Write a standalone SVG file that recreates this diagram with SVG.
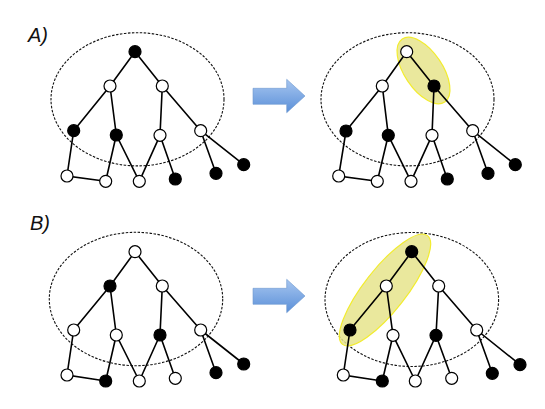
<svg xmlns="http://www.w3.org/2000/svg" width="545" height="409" viewBox="0 0 545 409">
<defs>
<linearGradient id="ag" x1="0" y1="0" x2="0" y2="1">
<stop offset="0" stop-color="#a7c6f0"/>
<stop offset="1" stop-color="#5a8fd8"/>
</linearGradient>
<style>
.bg{fill:#fff}
.dash{fill:none;stroke:#111;stroke-width:1.1;stroke-dasharray:2.5,1.5}
.hl{fill:#e6e48c;fill-opacity:0.85;stroke:#f2ec2e;stroke-width:1.2}
.e{stroke:#000;stroke-width:1.6;fill:none}
.w{fill:#fff;stroke:#000;stroke-width:1.2}
.b{fill:#000;stroke:#000;stroke-width:1.2}
.lbl{font-family:"Liberation Sans",Arial,sans-serif;font-style:italic;font-size:20px;fill:#111}
.arr{fill:url(#ag);stroke:#6f98cf;stroke-width:0.6}
</style>
</defs>
<rect class="bg" x="0" y="0" width="545" height="409"/>

<text class="lbl" x="28" y="42">A)</text>
<text class="lbl" x="30" y="230">B)</text>

<g id="arrowA"><path class="arr" d="M253,88.3 H286.7 V79.3 L305,96 L286.7,112.7 V104.3 H253 Z"/></g>
<g id="arrowB"><path class="arr" d="M253,288.3 H286.7 V279.3 L305,296 L286.7,312.7 V304.3 H253 Z"/></g>

<!-- Panel A left -->
<g id="panelA-left">
<ellipse class="dash" cx="137.5" cy="99.3" rx="86.5" ry="66.6"/>
<g id="connectors-A-left">
<path class="e" d="M135,51.7 L110,86 M135,51.7 L162.3,86 M110,86 L73.7,130.7 M110,86 L116.3,135 M162.3,86 L160,135.3 M162.3,86 L200.7,130.7 M73.7,130.7 L67,176 L105.7,181.3 M116.3,135 L105.7,181.3 M116.3,135 L139.3,181.3 M160,135.3 L139.3,181.3 M160,135.3 L175.3,179 M200.7,130.7 L216,173.3 M200.7,130.7 L243.7,164.7"/>
</g>
<g id="A1-n1"><circle class="b" cx="135" cy="51.7" r="6"/></g>
<g id="A1-n2"><circle class="w" cx="110" cy="86" r="6"/></g>
<g id="A1-n3"><circle class="w" cx="162.3" cy="86" r="6"/></g>
<g id="A1-n4"><circle class="b" cx="73.7" cy="130.7" r="6"/></g>
<g id="A1-n5"><circle class="b" cx="116.3" cy="135" r="6"/></g>
<g id="A1-n6"><circle class="w" cx="160" cy="135.3" r="6"/></g>
<g id="A1-n7"><circle class="w" cx="200.7" cy="130.7" r="6"/></g>
<g id="A1-n8"><circle class="w" cx="67" cy="176" r="6"/></g>
<g id="A1-n9"><circle class="w" cx="105.7" cy="181.3" r="6"/></g>
<g id="A1-n10"><circle class="w" cx="139.3" cy="181.3" r="6"/></g>
<g id="A1-n11"><circle class="b" cx="175.3" cy="179" r="6"/></g>
<g id="A1-n12"><circle class="b" cx="216" cy="173.3" r="6"/></g>
<g id="A1-n13"><circle class="b" cx="243.7" cy="164.7" r="6"/></g>
</g>

<!-- Panel A right -->
<g id="panelA-right">
<ellipse class="dash" cx="407.5" cy="99.3" rx="86.5" ry="66.6"/>
<ellipse class="hl" cx="423.5" cy="70.5" rx="38" ry="19" transform="rotate(56 423.5 70.5)"/>
<g id="connectors-A-right">
<path class="e" d="M406.7,51.7 L382.3,86 M406.7,51.7 L434,86 M382.3,86 L346,131 M382.3,86 L388.3,135.3 M434,86 L432,135.3 M434,86 L472.7,130.7 M346,131 L338.7,176 L377.3,181.3 M388.3,135.3 L377.3,181.3 M388.3,135.3 L411,181.3 M432,135.3 L411,181.3 M432,135.3 L447.3,179 M472.7,130.7 L488,173.3 M472.7,130.7 L515.3,164.7"/>
</g>
<g id="A2-n1"><circle class="w" cx="406.7" cy="51.7" r="6"/></g>
<g id="A2-n2"><circle class="w" cx="382.3" cy="86" r="6"/></g>
<g id="A2-n3"><circle class="b" cx="434" cy="86" r="6"/></g>
<g id="A2-n4"><circle class="b" cx="346" cy="131" r="6"/></g>
<g id="A2-n5"><circle class="b" cx="388.3" cy="135.3" r="6"/></g>
<g id="A2-n6"><circle class="w" cx="432" cy="135.3" r="6"/></g>
<g id="A2-n7"><circle class="w" cx="472.7" cy="130.7" r="6"/></g>
<g id="A2-n8"><circle class="w" cx="338.7" cy="176" r="6"/></g>
<g id="A2-n9"><circle class="w" cx="377.3" cy="181.3" r="6"/></g>
<g id="A2-n10"><circle class="w" cx="411" cy="181.3" r="6"/></g>
<g id="A2-n11"><circle class="b" cx="447.3" cy="179" r="6"/></g>
<g id="A2-n12"><circle class="b" cx="488" cy="173.3" r="6"/></g>
<g id="A2-n13"><circle class="b" cx="515.3" cy="164.7" r="6"/></g>
</g>

<!-- Panel B left -->
<g id="panelB-left">
<ellipse class="dash" cx="136" cy="299" rx="86.7" ry="66.7"/>
<g id="connectors-B-left">
<path class="e" d="M135,251.7 L110,286 M135,251.7 L162.3,286 M110,286 L73.7,330 M110,286 L116.3,335 M162.3,286 L160,335 M162.3,286 L200.7,330 M73.7,330 L67,375 L105.7,381 M116.3,335 L105.7,381 M116.3,335 L139.3,381 M160,335 L139.3,381 M160,335 L175.3,378.3 M200.7,330 L216,372.7 M200.7,330 L243.7,364"/>
</g>
<g id="B1-n1"><circle class="w" cx="135" cy="251.7" r="6"/></g>
<g id="B1-n2"><circle class="b" cx="110" cy="286" r="6"/></g>
<g id="B1-n3"><circle class="w" cx="162.3" cy="286" r="6"/></g>
<g id="B1-n4"><circle class="w" cx="73.7" cy="330" r="6"/></g>
<g id="B1-n5"><circle class="w" cx="116.3" cy="335" r="6"/></g>
<g id="B1-n6"><circle class="b" cx="160" cy="335" r="6"/></g>
<g id="B1-n7"><circle class="w" cx="200.7" cy="330" r="6"/></g>
<g id="B1-n8"><circle class="w" cx="67" cy="375" r="6"/></g>
<g id="B1-n9"><circle class="b" cx="105.7" cy="381" r="6"/></g>
<g id="B1-n10"><circle class="w" cx="139.3" cy="381" r="6"/></g>
<g id="B1-n11"><circle class="w" cx="175.3" cy="378.3" r="6"/></g>
<g id="B1-n12"><circle class="b" cx="216" cy="372.7" r="6"/></g>
<g id="B1-n13"><circle class="b" cx="243.7" cy="364" r="6"/></g>
</g>

<!-- Panel B right -->
<g id="panelB-right">
<ellipse class="dash" cx="411.8" cy="299.5" rx="86.8" ry="67"/>
<ellipse class="hl" cx="385" cy="290" rx="69" ry="21" transform="rotate(-52 385 290)"/>
<g id="connectors-B-right">
<path class="e" d="M411.7,251.7 L386.3,286 M411.7,251.7 L438.7,286 M386.3,286 L350,330 M386.3,286 L393,335.3 M438.7,286 L436,335.3 M438.7,286 L476.7,330 M350,330 L343.3,375 L382.3,381 M393,335.3 L382.3,381 M393,335.3 L415.3,381 M436,335.3 L415.3,381 M436,335.3 L451.7,378.3 M476.7,330 L492.3,373.3 M476.7,330 L520,364.7"/>
</g>
<g id="B2-n1"><circle class="b" cx="411.7" cy="251.7" r="6"/></g>
<g id="B2-n2"><circle class="w" cx="386.3" cy="286" r="6"/></g>
<g id="B2-n3"><circle class="w" cx="438.7" cy="286" r="6"/></g>
<g id="B2-n4"><circle class="b" cx="350" cy="330" r="6"/></g>
<g id="B2-n5"><circle class="w" cx="393" cy="335.3" r="6"/></g>
<g id="B2-n6"><circle class="b" cx="436" cy="335.3" r="6"/></g>
<g id="B2-n7"><circle class="w" cx="476.7" cy="330" r="6"/></g>
<g id="B2-n8"><circle class="w" cx="343.3" cy="375" r="6"/></g>
<g id="B2-n9"><circle class="b" cx="382.3" cy="381" r="6"/></g>
<g id="B2-n10"><circle class="w" cx="415.3" cy="381" r="6"/></g>
<g id="B2-n11"><circle class="w" cx="451.7" cy="378.3" r="6"/></g>
<g id="B2-n12"><circle class="b" cx="492.3" cy="373.3" r="6"/></g>
<g id="B2-n13"><circle class="b" cx="520" cy="364.7" r="6"/></g>
</g>
</svg>
